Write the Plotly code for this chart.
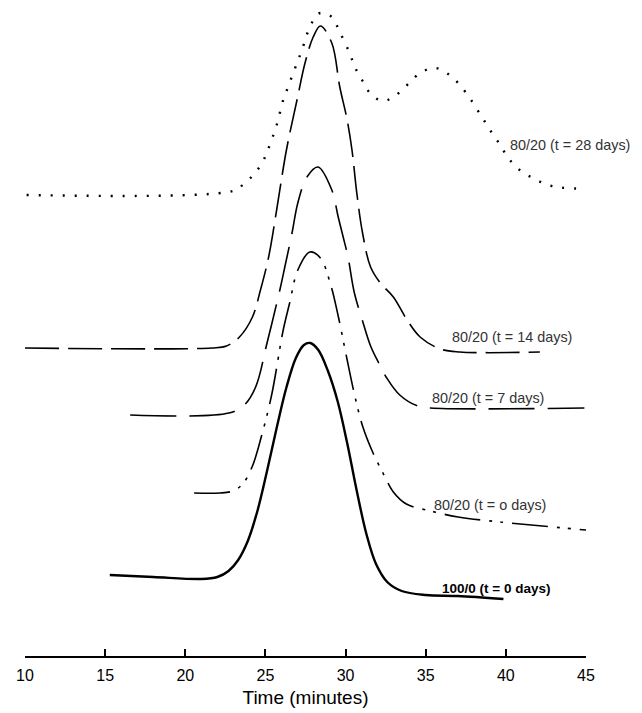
import plotly.graph_objects as go

# ---- data (time in minutes, detector response in arbitrary units) ----
t_28 = [10.1, 22.97, 23.58, 24.24, 24.79, 25.15, 25.70, 26.11, 26.41, 26.97, 27.28, 27.77, 28.28, 28.59, 29.14,
        29.64, 30.25, 30.58, 31.03, 31.52, 32.27, 32.98, 33.84, 34.65, 35.58, 36.31, 37.02, 37.83, 38.54,
        39.14, 39.65, 40.15, 40.86, 41.67, 42.34, 43.08, 43.79, 45.0]
r_28 = [461, 465, 471, 481, 493, 506, 531, 556, 569, 593, 606, 629, 642, 643, 639,
        624, 603, 589, 576, 563, 555, 559, 571, 583, 588, 583, 573, 556, 538,
        523, 511, 498, 486, 478, 473, 469, 468, 467]

t_14 = [10.0, 21.66, 22.57, 23.38, 24.19, 24.69, 25.2, 25.7, 26.31, 26.97, 27.47, 27.98, 28.43, 29.14, 29.64,
        30.1, 30.4, 30.7, 31.06, 31.56, 32.17, 32.98, 33.84, 34.65, 35.91, 37.12, 42.12]
r_14 = [308, 308, 310, 319, 339, 366, 399, 446, 506, 556, 593, 619, 630, 613, 569,
        536, 506, 463, 423, 389, 373, 359, 336, 319, 307, 304, 304]

t_7 = [16.56, 22.72, 23.68, 24.39, 25.1, 25.9, 26.21, 26.66, 27.02, 27.59, 28.28, 29.14, 29.54, 29.85, 30.15,
       30.55, 31.06, 31.56, 32.07, 32.57, 33.38, 34.49, 35.3, 44.9]
r_7 = [241, 243, 251, 269, 313, 366, 389, 423, 453, 479, 489, 466, 439, 419, 399,
       363, 335, 310, 293, 278, 261, 250, 248, 248]

t_0b = [20.55, 22.16, 22.97, 23.58, 24.19, 24.79, 25.4, 26.11, 26.51, 27.02, 27.77, 28.43, 29.04, 29.54, 30.05,
        30.55, 31.06, 31.66, 32.27, 32.98, 33.79, 35.3, 37.02, 39.65, 45.0]
r_0b = [163, 163, 165, 172, 190, 222, 262, 326, 353, 386, 404, 398, 373, 340, 300,
        262, 230, 205, 185, 164, 152, 145, 139, 134, 126]

t_0a = [15.29, 18.0, 21.0, 22.0, 22.7, 23.3, 23.9, 24.5, 25.1, 25.7, 26.3, 26.9, 27.4, 27.8, 28.3,
        28.9, 29.5, 30.1, 30.7, 31.3, 31.9, 32.6, 33.5, 35.0, 37.0, 39.85]
r_0a = [81, 79, 77, 79, 85, 96, 115, 145, 185, 228, 268, 298, 311, 313, 306,
        285, 255, 213, 165, 122, 92, 74, 65, 61, 60, 57]

labels = ["80/20 (t = 28 days)", "80/20 (t = 14 days)", "80/20 (t = 7 days)",
          "80/20 (t = o days)", "100/0 (t = 0 days)"]
label_x = [40.13, 36.52, 35.26, 35.39, 35.89]
label_y = [511, 319, 258, 151, 68]

x_ticks = [10, 15, 20, 25, 30, 35, 40, 45]

# ---- figure ----
fig = go.Figure()
series = [
    (t_28, r_28, dict(color="black", width=2.4, dash="2px,10px")),
    (t_14, r_14, dict(color="black", width=1.6, dash="34px,9px")),
    (t_7, r_7, dict(color="black", width=1.6, dash="46px,13px")),
    (t_0b, r_0b, dict(color="black", width=1.6, dash="36px,9px,3px,8px,3px,9px")),
    (t_0a, r_0a, dict(color="black", width=2.4)),
]
for tx, ry, ln in series:
    fig.add_trace(go.Scatter(x=tx, y=ry, mode="lines",
                             line=dict(shape="spline", smoothing=1.0, **ln),
                             showlegend=False, hoverinfo="skip"))

for i, (txt, lx, ly) in enumerate(zip(labels, label_x, label_y)):
    bold = i == len(labels) - 1
    fig.add_annotation(x=lx, y=ly, xref="x", yref="y", text=f"<b>{txt}</b>" if bold else txt,
                       showarrow=False, xanchor="left", yanchor="middle",
                       font=dict(family="Liberation Sans, Arial, sans-serif", size=14.4 if not bold else 13.5,
                                 color="black" if bold else "#333333"))

# the page body has an 8px margin, so the figure is 8px smaller than the window
fig.update_layout(
    width=634, height=705,
    margin=dict(l=17, r=56, t=2, b=57),
    paper_bgcolor="white", plot_bgcolor="white",
    font=dict(family="Liberation Sans, Arial, sans-serif", color="black"),
    xaxis=dict(range=[10, 45], tickvals=x_ticks, ticks="inside", ticklen=7, tickwidth=1.5,
               tickcolor="black", showline=True, linewidth=1.5, linecolor="black",
               showgrid=False, zeroline=False, tickfont=dict(size=16),
               ticklabelstandoff=4,
               title=dict(text="Time (minutes)", font=dict(size=19), standoff=8)),
    yaxis=dict(range=[0, 646], visible=False, showgrid=False, zeroline=False),
)

fig.write_html("out.html")
